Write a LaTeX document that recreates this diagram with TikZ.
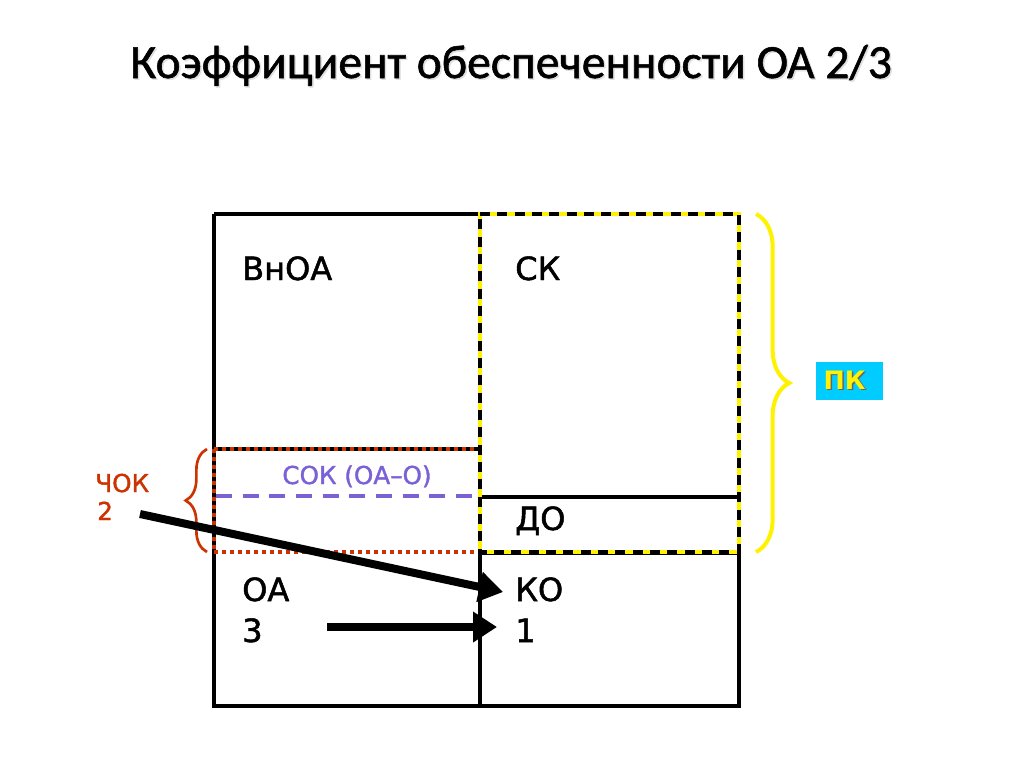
\documentclass[tikz,border=0pt]{standalone}
\usepackage{fontspec}
\setmainfont[FakeBold=1.5]{DejaVu Sans}
\newfontfamily\titlefont[FakeBold=1.2]{Carlito}
\newfontfamily\pkfont{DejaVu Sans}
\usetikzlibrary{arrows.meta,decorations.pathreplacing}
\definecolor{chok}{HTML}{CC3300}
\definecolor{sok}{HTML}{7B61D6}
\definecolor{pkyel}{HTML}{FFF200}
\definecolor{pkbox}{HTML}{00CCFF}
\begin{document}
\begin{tikzpicture}[x=0.75pt,y=-0.75pt,
  frame/.style={line width=3pt, black},
  lbl/.style={anchor=base west, inner sep=0pt, font=\fontsize{24}{28}\selectfont},
  small/.style={anchor=base west, inner sep=0pt, font=\fontsize{18.5}{22}\selectfont},
  reddot/.style={line width=2.4pt, chok, dash pattern=on 3pt off 3pt},
  yelline/.style={line width=3pt, pkyel},
  blkdash/.style={line width=3pt, black, dash pattern=on 7.5pt off 5.5pt},
  bigarrow/.style={line width=6pt, black, -{Triangle[length=18pt,width=22pt]}}]
\useasboundingbox (0,0) rectangle (1024,768);
\fill[white] (0,0) rectangle (1024,768);

% title
\node[anchor=base, inner sep=0pt, text=black!12] (titleshadow) at (512.5,79.5)
  {\resizebox{571pt}{!}{\titlefont\fontsize{40}{48}\selectfont Коэффициент обеспеченности ОА 2/3}};
\node[anchor=base, inner sep=0pt] (title) at (511,78)
  {\resizebox{571pt}{!}{\titlefont\fontsize{40}{48}\selectfont Коэффициент обеспеченности ОА 2/3}};

% coordinates
\coordinate (tl) at (214,214);
\coordinate (tm) at (480,214);
\coordinate (tr) at (739,214);
\coordinate (bl) at (214,706);
\coordinate (bm) at (480,706);
\coordinate (br) at (739,706);

% main frame
\draw[frame] (tl) -- (bl) -- (br) -- (tr);
\draw[frame] (tl) -- (tm);
\draw[frame] (tm) -- (bm);
\draw[frame] (480,553) -- (739,553);
\draw[line width=2.4pt] (480,497) -- (739,497);

% red dotted region
\draw[line width=2.4pt] (214,449) -- (480,449);
\draw[reddot] (214,449) -- (480,449);
\draw[reddot] (214,552) -- (480,552);
\draw[reddot] (214,449) -- (214,552);
\draw[line width=2.4pt, sok, dash pattern=on 12pt off 8pt] (216,496) -- (478,496);

% yellow dashed region
\draw[yelline] (480,214) rectangle (739,552);
\draw[blkdash] (480,214) -- (739,214) -- (739,552) -- (480,552) -- cycle;

% labels
\node[lbl] (vnoa) at (242,280) {ВнОА};
\node[lbl] (sk) at (515,280) {СК};
\node[lbl] (do) at (515,530) {ДО};
\node[lbl] (oa) at (242,601) {ОА};
\node[lbl] (three) at (242,642) {3};
\node[lbl] (ko) at (515,601) {КО};
\node[lbl] (one) at (515,642) {1};
\node[small, sok, anchor=base] (sokl) at (357,484) {СОК (ОА–О)};
\node[small, chok] (chokl) at (95,492) {ЧОК};
\node[small, chok] (two) at (97,520) {2};

% braces
\draw[pkyel, line width=3pt, decorate, decoration={brace, amplitude=25pt}] (756,214) -- (756,552);
\draw[chok, line width=2pt, decorate, decoration={brace, amplitude=16pt}] (207,552) -- (207,449);

% PK box
\node[fill=pkbox, minimum width=50pt, minimum height=28pt, inner sep=0pt] (pk) at (849.5,381) {};
\node[text=black!60, font=\fontsize{19}{22}\selectfont\pkfont\bfseries, inner sep=0pt] (pkshadow) at (846,381.5) {ПК};
\node[text=pkyel, font=\fontsize{19}{22}\selectfont\pkfont\bfseries, inner sep=0pt] (pkt) at (844.5,380) {ПК};

% arrows
\coordinate (a1s) at (140,514);
\coordinate (a1e) at (503,592);
\coordinate (a2s) at (327,627);
\coordinate (a2e) at (497,627);
\draw[bigarrow] (a1s) -- (a1e);
\draw[bigarrow] (a2s) -- (a2e);
\end{tikzpicture}
\end{document}
